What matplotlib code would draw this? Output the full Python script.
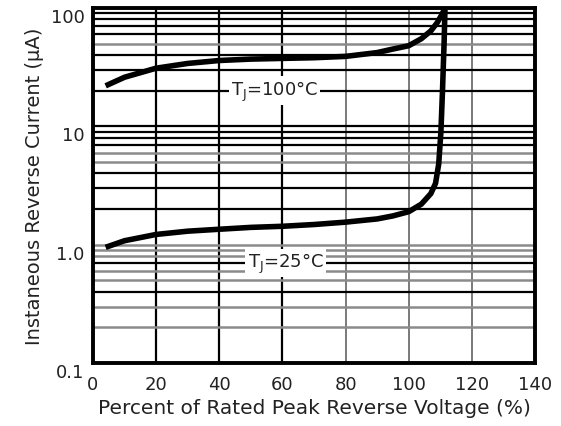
import matplotlib
matplotlib.use("Agg")
import matplotlib.pyplot as plt
import matplotlib.transforms as mtransforms
from matplotlib.ticker import LogLocator, FixedLocator, NullFormatter

# --- DATA ---
pct_100 = [4, 10, 20, 30, 40, 50, 60, 70, 80, 90, 95, 100, 104, 107, 109, 110.5, 111.5]
ir_100 = [22, 26, 31, 34, 36, 37, 37.5, 38, 39, 42, 45, 48, 55, 64, 75, 88, 100]

pct_25 = [4, 10, 20, 30, 40, 50, 60, 70, 80, 90, 95, 100, 104, 107, 108.5,
          109.5, 110.2, 110.7, 111.2, 111.5]
ir_25 = [0.95, 1.08, 1.22, 1.3, 1.35, 1.4, 1.43, 1.48, 1.55, 1.65, 1.75, 1.9,
         2.2, 2.7, 3.3, 4.8, 9, 20, 50, 100]

x_ticks = [0, 20, 40, 60, 80, 100, 120, 140]
y_ticks = [0.1, 1, 10, 100]
y_tick_labels = ["0.1", "1.0", "10", "100"]

# grid lines that look grey in the scan, the rest are black
grey_y = [50, 6, 5, 1, 0.9, 0.8, 0.6, 0.5, 0.3, 0.2]
grey_x = [80, 100, 120]

plt.rcParams['font.family'] = ['DejaVu Sans']

fig = plt.figure(figsize=(5.61, 4.27), dpi=100)
ax = fig.add_axes([93 / 561, 1 - 364 / 427, (535 - 93) / 561, (364 - 9) / 427])

ax.set_yscale('log')
ax.set_xlim(0, 140)
ax.set_ylim(0.1, 100)

# --- grid ---
ax.xaxis.set_major_locator(FixedLocator(x_ticks))
ax.yaxis.set_major_locator(FixedLocator(y_ticks))
ax.yaxis.set_minor_locator(LogLocator(base=10, subs=range(2, 10)))
ax.yaxis.set_minor_formatter(NullFormatter())
ax.set_xticklabels([str(v) for v in x_ticks])
ax.set_yticklabels(y_tick_labels)

ax.grid(True, which='both', axis='both', color='black', linewidth=1.6)
ax.set_axisbelow(True)

ax.tick_params(which='both', length=0)
ax.tick_params(axis='x', pad=9, labelsize=13, labelcolor='#222222')
ax.tick_params(axis='y', pad=6, labelsize=13, labelcolor='#222222')

for s in ax.spines.values():
    s.set_linewidth(2.8)
    s.set_color('black')

# --- curves ---
ax.plot(pct_100, ir_100, color='black', linewidth=4, solid_capstyle='butt', zorder=3)
ax.plot(pct_25, ir_25, color='black', linewidth=4, solid_capstyle='butt', zorder=3)

box = dict(facecolor='white', edgecolor='none', pad=1.5)
ax.text(57.5, 20, r"T$_\mathregular{J}$=100°C", ha='center', va='center',
        fontsize=13, bbox=box, zorder=4, color='#222222')
ax.text(61, 0.7, r"T$_\mathregular{J}$=25°C", ha='center', va='center',
        fontsize=13, bbox=box, zorder=4, color='#222222')

ax.set_xlabel("Percent of Rated Peak Reverse Voltage (%)", fontsize=14.5, labelpad=3,
              color='#222222')
ax.set_ylabel("Instaneous Reverse Current (µA)", fontsize=14, labelpad=5,
              color='#222222')

# ticks get their positions at draw time, so draw once before recolouring
fig.canvas.draw()
for tick in ax.yaxis.get_major_ticks() + ax.yaxis.get_minor_ticks():
    v = tick.get_loc()
    if any(abs(v - g) / g < 1e-6 for g in grey_y):
        tick.gridline.set_color('#8a8a8a')
        tick.gridline.set_linewidth(1.8)
for tick in ax.xaxis.get_major_ticks():
    if tick.get_loc() in grey_x:
        tick.gridline.set_color('#7a7a7a')
        tick.gridline.set_linewidth(1.4)

# y labels sit a bit below their grid lines in the original
offset = mtransforms.ScaledTranslation(0, -7 / 100, fig.dpi_scale_trans)
for lab in ax.get_yticklabels():
    lab.set_transform(lab.get_transform() + offset)

fig.savefig("out.png", dpi=100)
